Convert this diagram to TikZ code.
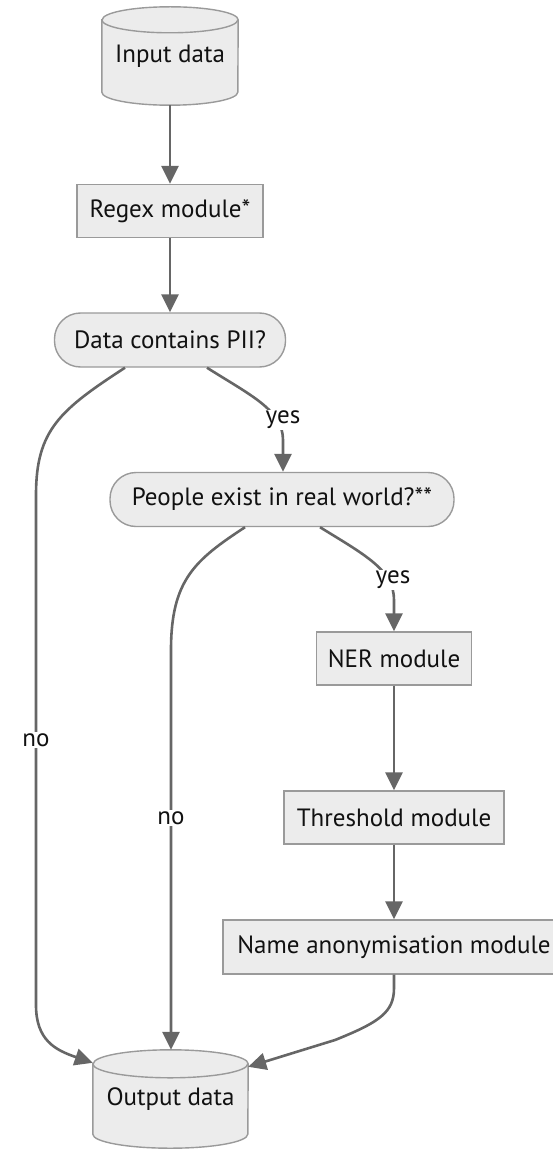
\documentclass[tikz,border=0pt]{standalone}
\usepackage{fontspec}
\setmainfont{PT Sans}
\usetikzlibrary{arrows.meta,calc,backgrounds}
\definecolor{nodefill}{HTML}{ECECEC}
\definecolor{nodeline}{HTML}{9A9A9A}
\definecolor{edgecol}{HTML}{666666}
\definecolor{txt}{HTML}{111111}
\tikzset{
  x=1pt, y=1pt,
  every node/.style={font=\fontsize{25}{29}\selectfont, text=txt},
  box/.style={draw=nodeline, fill=nodefill, line width=1.4pt, rectangle, minimum height=53pt, inner sep=0pt},
  stadium/.style={draw=nodeline, fill=nodefill, line width=1.4pt, rectangle, rounded corners=26pt, minimum height=54pt, inner sep=0pt},
  cyl/.style={rectangle, inner sep=0pt, minimum height=98pt},
  flow/.style={draw=edgecol, line width=2.6pt, -{Triangle[length=18pt,width=17pt]}},
  lbl/.style={fill=white, inner sep=1pt},
}
\begin{document}
\begin{tikzpicture}
\clip (0,0) rectangle (553,-1150);
% nodes
\node[cyl, minimum width=136pt] (in) at (170,-56) {\raisebox{-3pt}{Input data}};
\node[box, minimum width=186pt] (regex) at (170,-211) {Regex module*};
\node[stadium, minimum width=231pt] (d1) at (170,-340) {Data contains PII?};
\node[stadium, minimum width=344pt] (d2) at (282,-499.5) {People exist in real world?**};
\node[box, minimum width=155pt] (ner) at (394,-658.5) {NER module};
\node[box, minimum width=220pt] (thr) at (394,-817.5) {Threshold module};
\node[box, minimum width=342pt, minimum height=54pt] (anon) at (394,-947) {Name anonymisation module};
\node[cyl, minimum width=155pt] (out) at (170.5,-1099) {\raisebox{-4pt}{Output data}};
% cylinders
\begin{scope}[on background layer]
  \path[fill=nodefill, draw=nodeline, line width=1.4pt]
    ([yshift=-13pt]in.north west) -- ([yshift=13pt]in.south west)
    arc[start angle=180, end angle=360, x radius=68pt, y radius=13pt]
    -- ([yshift=-13pt]in.north east)
    arc[start angle=0, end angle=180, x radius=68pt, y radius=13pt] -- cycle;
  \draw[nodeline, line width=1.4pt] ([yshift=-13pt]in.north west)
    arc[start angle=180, end angle=360, x radius=68pt, y radius=13pt];
  \path[fill=nodefill, draw=nodeline, line width=1.4pt]
    ([yshift=-14pt]out.north west) -- ([yshift=14pt]out.south west)
    arc[start angle=180, end angle=360, x radius=77.5pt, y radius=14pt]
    -- ([yshift=-14pt]out.north east)
    arc[start angle=0, end angle=180, x radius=77.5pt, y radius=14pt] -- cycle;
  \draw[nodeline, line width=1.4pt] ([yshift=-14pt]out.north west)
    arc[start angle=180, end angle=360, x radius=77.5pt, y radius=14pt];
\end{scope}
% coordinates for edge ends
\coordinate (d1l) at ([xshift=-45pt]d1.south);
\coordinate (d1r) at ([xshift=37pt]d1.south);
\coordinate (d2l) at ([xshift=-37pt]d2.south);
\coordinate (d2r) at ([xshift=38pt]d2.south);
\coordinate (outl) at ([yshift=-13pt]out.north west);
\coordinate (outr) at ([yshift=-17pt]out.north east);
% edges
\draw[flow] (in.south) -- (regex.north);
\draw[flow] (regex.south) -- (d1.north);
\draw[flow] (d1l) .. controls (60,-410) and (36,-430) .. (36,-495) -- (36,-1005)
  .. controls (36,-1040) and (55,-1050) .. (outl);
\draw[flow] (d1r) .. controls (250,-395) and (283,-410) .. (283,-440) -- ([xshift=1pt]d2.north);
\draw[flow] (d2l) .. controls (195,-560) and (171,-580) .. (171,-650) -- ([xshift=0.5pt]out.north);
\draw[flow] (d2r) .. controls (365,-555) and (394,-570) .. (394,-600) -- (ner.north);
\draw[flow] (ner.south) -- (thr.north);
\draw[flow] (thr.south) -- (anon.north);
\draw[flow] (anon.south) -- (394,-988) .. controls (394,-1012) and (380,-1022) .. (335,-1040) -- (outr);
% labels
\node[lbl] (lno1) at (36,-740) {no};
\node[lbl] (lyes1) at (283,-420) {yes};
\node[lbl] (lno2) at (171,-818) {no};
\node[lbl] (lyes2) at (393,-580) {yes};
\end{tikzpicture}
\end{document}
